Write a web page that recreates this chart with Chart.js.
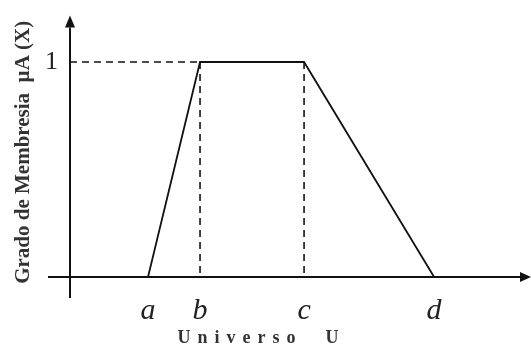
<html>
<head>
<style>
  body { margin: 0; background: #fff; }
  #wrap { width: 531px; height: 349px; }
</style>
</head>
<script src="https://cdn.jsdelivr.net/npm/chart.js"></script>
<body>
  <div id="wrap"><canvas id="myChart" width="531" height="349"></canvas></div>
</body>
<script>
  // puntos de la funcion trapezoidal (a, b, c, d)
  const puntosX = [1.5, 2.5, 4.5, 7];
  const puntosY = [0, 1, 1, 0];
  const etiquetasX = ['a', 'b', 'c', 'd'];
  const etiquetasY = [1];
  const tituloY = 'Grado de Membresia  \u00b5A (X)';
  const tituloX = 'Universo  U';

  const trapecio = puntosX.map((x, i) => ({ x: x, y: puntosY[i] }));
  // lineas discontinuas: nivel 1 hasta b, y verticales en b y c
  const guiaH = [{ x: 0, y: 1 }, { x: puntosX[1], y: 1 }];
  const guiaB = [{ x: puntosX[1], y: 1 }, { x: puntosX[1], y: 0 }];
  const guiaC = [{ x: puntosX[2], y: 1 }, { x: puntosX[2], y: 0 }];

  const dash = {
    borderColor: '#111',
    borderWidth: 1.6,
    borderDash: [7, 5],
    pointRadius: 0,
    fill: false
  };

  // ejes con flechas y titulo del eje x
  const ejes = {
    id: 'ejes',
    afterDraw(chart) {
      const ctx = chart.ctx;
      const xs = chart.scales.x, ys = chart.scales.y;
      const x0 = xs.getPixelForValue(0), y0 = ys.getPixelForValue(0);
      const ca = chart.chartArea;
      ctx.save();
      ctx.strokeStyle = '#111';
      ctx.fillStyle = '#111';
      ctx.lineWidth = 2;
      ctx.beginPath();
      ctx.moveTo(x0 - 22, y0); ctx.lineTo(ca.right, y0);
      ctx.moveTo(x0, ca.top); ctx.lineTo(x0, y0 + 21);
      ctx.stroke();
      // flecha y
      ctx.beginPath();
      ctx.moveTo(x0, ca.top - 12);
      ctx.lineTo(x0 - 5, ca.top);
      ctx.lineTo(x0 + 5, ca.top);
      ctx.closePath(); ctx.fill();
      // flecha x
      ctx.beginPath();
      ctx.moveTo(ca.right + 9, y0);
      ctx.lineTo(ca.right - 2, y0 - 5);
      ctx.lineTo(ca.right - 2, y0 + 5);
      ctx.closePath(); ctx.fill();
      // titulo x
      ctx.font = 'bold 18px "Liberation Serif"';
      ctx.letterSpacing = '7px';
      ctx.textAlign = 'center';
      ctx.textBaseline = 'middle';
      ctx.fillStyle = '#333';
      ctx.fillText(tituloX, xs.getPixelForValue(3.68), y0 + 61);
      ctx.restore();
    }
  };

  const config = {
    type: 'line',
    data: {
      datasets: [
        { data: trapecio, borderColor: '#111', borderWidth: 1.8, pointRadius: 0, fill: false, tension: 0 },
        Object.assign({ data: guiaH }, dash),
        Object.assign({ data: guiaB }, dash),
        Object.assign({ data: guiaC }, dash)
      ]
    },
    options: {
      responsive: false,
      animation: false,
      events: [],
      layout: { padding: { top: 23, right: 9, left: 0, bottom: 0 } },
      plugins: { legend: { display: false }, tooltip: { enabled: false } },
      scales: {
        x: {
          type: 'linear',
          min: 0,
          max: 8.69,
          grid: { display: false, drawTicks: false },
          border: { display: false },
          afterBuildTicks: (s) => { s.ticks = puntosX.map(v => ({ value: v })); },
          afterFit: (s) => { s.height = 72; },
          ticks: {
            padding: 16,
            color: '#222',
            font: { family: '"Liberation Serif"', style: 'italic', size: 30 },
            callback: (v) => etiquetasX[puntosX.indexOf(v)]
          }
        },
        y: {
          type: 'linear',
          min: 0,
          max: 1.16,
          grid: { display: false, drawTicks: false },
          border: { display: false },
          afterBuildTicks: (s) => { s.ticks = etiquetasY.map(v => ({ value: v })); },
          afterFit: (s) => { s.width = 70; },
          ticks: {
            padding: 12,
            color: '#222',
            font: { family: '"Liberation Serif"', size: 26 },
            callback: (v) => String(v)
          },
          title: {
            display: true,
            text: tituloY,
            color: '#333',
            padding: { top: 11, bottom: 0 },
            font: { family: '"Liberation Serif"', weight: 'bold', size: 21 }
          }
        }
      }
    },
    plugins: [ejes]
  };

  const myChart = new Chart(document.getElementById('myChart'), config);
</script>
</html>
